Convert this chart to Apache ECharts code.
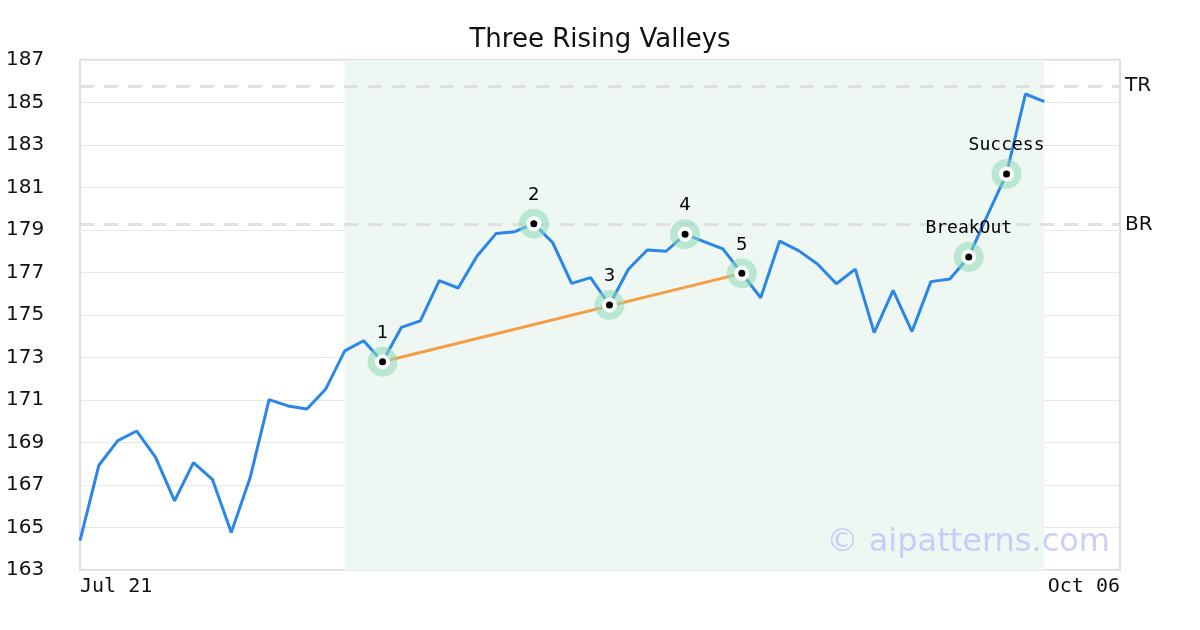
<!DOCTYPE html>
<html>
<head>
<meta charset="utf-8">
<script src="https://cdn.jsdelivr.net/npm/echarts@6/dist/echarts.min.js"></script>
<style>
html,body{margin:0;padding:0;background:#fff;}
#chart{width:1200px;height:630px;}
</style>
</head>
<body>
<div id="chart"></div>
<script>
// ---- data ----
const prices = [164.38, 167.93, 169.09, 169.54, 168.30, 166.25, 168.05, 167.27, 164.77, 167.35,
  171.02, 170.72, 170.58, 171.52, 173.31, 173.79, 172.80, 174.42, 174.72, 176.62,
  176.27, 177.78, 178.83, 178.92, 179.30, 178.40, 176.49, 176.76, 175.47, 177.15,
  178.06, 178.00, 178.80, 178.45, 178.11, 176.96, 175.81, 178.48, 178.03, 177.40,
  176.47, 177.16, 174.17, 176.16, 174.22, 176.57, 176.69, 177.73, 179.71, 181.64,
  185.40, 185.04];
const xTickPositions = [0, 55];
const xTickLabels = ["Jul 21", "Oct 06"];
const patternIdx = [16, 24, 28, 32, 35, 47, 49];
const patternLabels = ["1", "2", "3", "4", "5", "BreakOut", "Success"];
const trendIdx = [16, 35];
const levelNames = ["TR", "BR"];
const levelValues = [185.78, 179.26];
const zoneIdx = [14, 51];
const title = "Three Rising Valleys";
const watermark = "\u00a9 aipatterns.com";

// ---- build ----
const lineData = prices.map((v, i) => [i, v]);
const patPoints = patternIdx.map(i => [i, prices[i]]);
const patLabelData = patternIdx.map((i, k) => ({
  value: [i, prices[i]],
  label: {
    formatter: patternLabels[k],
    fontFamily: /^\d+$/.test(patternLabels[k]) ? 'DejaVu Sans' : 'DejaVu Sans Mono'
  }
}));
const trendData = trendIdx.map(i => [i, prices[i]]);

const chart = echarts.init(document.getElementById('chart'), null, {renderer: 'canvas'});
chart.setOption({
  animation: false,
  backgroundColor: '#ffffff',
  title: {
    text: title, left: 'center', top: 22,
    textStyle: {fontFamily: 'DejaVu Sans', fontSize: 26, fontWeight: 'normal', color: '#111'}
  },
  grid: {left: 80, right: 80, top: 60, bottom: 60, show: true, borderColor: '#dddddd', borderWidth: 2, backgroundColor: 'transparent'},
  xAxis: {
    type: 'value', min: xTickPositions[0], max: xTickPositions[xTickPositions.length - 1],
    interval: xTickPositions[1] - xTickPositions[0],
    axisLine: {show: false}, axisTick: {show: false}, splitLine: {show: false},
    axisLabel: {
      formatter: v => { const k = xTickPositions.indexOf(v); return k >= 0 ? xTickLabels[k] : ''; },
      fontFamily: 'DejaVu Sans Mono', fontSize: 20, color: '#111', margin: 7,
      alignMinLabel: 'left', alignMaxLabel: 'right'
    }
  },
  yAxis: {
    type: 'value', min: 163, max: 187, interval: 2,
    axisLine: {show: false}, axisTick: {show: false},
    splitLine: {lineStyle: {color: '#e8e8e8', width: 1}},
    axisLabel: {fontFamily: 'DejaVu Sans', fontSize: 20, color: '#111', align: 'left', margin: 74}
  },
  graphic: [{
    type: 'text', right: 90, top: 527, z: 50, silent: true,
    style: {text: watermark, fontFamily: 'DejaVu Sans', fontSize: 32, fill: 'rgba(190,190,250,0.75)'}
  }],
  series: [
    {
      type: 'line', data: lineData, showSymbol: false, z: 3,
      lineStyle: {color: '#2a86e8', width: 3}, itemStyle: {color: '#2a86e8'},
      markArea: {
        silent: true, itemStyle: {color: '#eff7f3'},
        data: [[{xAxis: zoneIdx[0]}, {xAxis: zoneIdx[1]}]]
      },
      markLine: {
        silent: true, symbol: ['none', 'none'],
        lineStyle: {color: '#e0e0e0', type: [14, 10], width: 3},
        label: {position: 'end', formatter: p => p.name, fontFamily: 'DejaVu Sans', fontSize: 20, color: '#111', distance: 5},
        data: levelValues.map((v, k) => ({yAxis: v, name: levelNames[k]}))
      }
    },
    {
      type: 'line', data: trendData, showSymbol: false, z: 4,
      lineStyle: {color: '#f59d45', width: 3}
    },
    {
      type: 'scatter', data: patPoints, symbolSize: 30, z: 60,
      itemStyle: {color: 'rgba(141,218,182,0.55)', opacity: 1}
    },
    {
      type: 'scatter', data: patPoints, symbolSize: 15, z: 61,
      itemStyle: {color: '#ffffff', opacity: 1}
    },
    {
      type: 'scatter', data: patLabelData, symbolSize: 7, z: 62,
      itemStyle: {color: '#000000', opacity: 1},
      label: {show: true, position: 'top', distance: 16, fontSize: 18, color: '#000'}
    }
  ]
});
</script>
</body>
</html>
